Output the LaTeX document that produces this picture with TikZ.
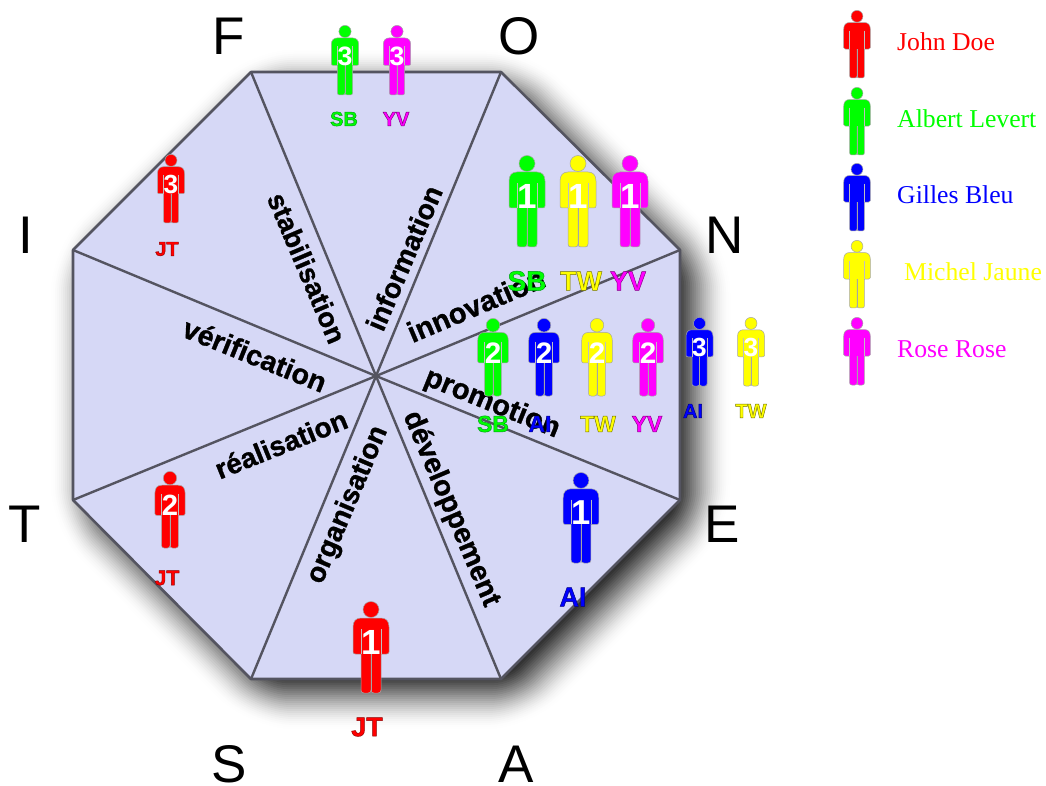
\documentclass[tikz,border=0pt]{standalone}
\usepackage{fontspec}
\setmainfont{Liberation Sans}
\newfontfamily\serifleg{Liberation Serif}
\definecolor{octfill}{RGB}{214,216,246}
\definecolor{rimgray}{RGB}{84,84,96}
\definecolor{pred}{RGB}{255,0,0}
\definecolor{pgreen}{RGB}{0,255,0}
\definecolor{pblue}{RGB}{0,0,255}
\definecolor{pyellow}{RGB}{255,255,0}
\definecolor{pmagenta}{RGB}{255,0,255}
\tikzset{
  rim/.style={draw=rimgray,line width=2.6pt,line join=round},
  spoke/.style={draw=rimgray,line width=2.4pt},
  corner/.style={font=\fontsize{53}{53}\selectfont,text=black,inner sep=0pt},
  sector/.style={font=\fontsize{#1}{#1}\selectfont\bfseries,text=black,inner sep=0pt},
  sector/.default=28,
  legend/.style={font=\serifleg\fontsize{25.7}{25.7}\selectfont,inner sep=0pt,anchor=west},
  figure/.style={line width=.5pt,draw=black!35},
  tag/.style={inner sep=0pt}
}
\def\edgepred{0.55 0 0}
\def\edgepgreen{0 0.6 0.1}
\def\edgepblue{0 0 0.5}
\def\edgepyellow{0.45 0.45 0}
\def\edgepmagenta{0.5 0 0.5}
\newcommand\heavy[1]{\special{pdf:code 2 Tr 0.3 w 0 0 0 RG}#1\special{pdf:code 0 Tr}}
% name, cx, top, bottom, colour, number
\newcommand\person[6]{%
  \pgfmathsetmacro\ph{#4-#3}\pgfmathsetmacro\ps{\ph/92}%
  \pgfmathsetmacro\pf{\ph*.38}%
  \begin{scope}[shift={(#2,#3)},scale=\ps]
    \fill[#5,figure] (0,8.5) circle [radius=8];
    \fill[#5,figure] (-10,17) .. controls (-15,17) and (-18,20) .. (-18,26)
      -- (-18,51) .. controls (-18,52.5) and (-17,53) .. (-15.5,53) -- (-10,53)
      -- (-10,89) .. controls (-10,91) and (-9,92) .. (-7,92) -- (-3,92)
      .. controls (-1,92) and (0,91) .. (0,89) -- (0,53) -- (0,89)
      .. controls (0,91) and (1,92) .. (3,92) -- (7,92)
      .. controls (9,92) and (10,91) .. (10,89) -- (10,53) -- (15.5,53)
      .. controls (17,53) and (18,52.5) .. (18,51) -- (18,26)
      .. controls (18,20) and (15,17) .. (10,17) -- cycle;
    \draw[black!35,line width=.4pt] (0,53) -- (0,90);
    \draw[black!25,line width=.3pt] (-10,28) -- (-10,53) (10,28) -- (10,53);
    \if\relax\detokenize{#6}\relax\else
      \node[inner sep=0pt,text=white,font=\fontsize{\pf}{\pf}\selectfont\bfseries] (#1n) at (0,41) {#6};
    \fi
  \end{scope}}
% name, x, y, size, colour, text
\newcommand\tagtext[6]{%
  \node[tag,text=#5,font=\fontsize{#4}{#4}\selectfont\bfseries] (#1) at (#2,#3)
    {\special{pdf:code 2 Tr 0.45 w \csname edge#5\endcsname\space RG}#6\special{pdf:code 0 Tr}};}
\begin{document}
\begin{tikzpicture}[x=1pt,y=-1pt]
\useasboundingbox (0,0) rectangle (1046,786);
\fill[white] (0,0) rectangle (1046,786);
% soft shadow, outermost layer first
\foreach \d in {38,36,...,-38}{
  \pgfmathsetmacro\t{(38-\d)/76}
  \pgfmathsetmacro\p{100*\t*\t*(3-2*\t)}
  \pgfmathsetmacro\k{(304+\d)/304}
  \pgfmathsetmacro\rc{max(1,(\d+38)*.6)}
  \fill[black!\p,rounded corners=\rc pt] [shift={(390,390)},scale=\k]
    (-125,-304) -- (125,-304) -- (304,-126) -- (304,124) -- (125,303)
    -- (-125,303) -- (-303,124) -- (-303,-126) -- cycle;
}
\coordinate (c) at (376,376);
\coordinate (v1) at (251,72);
\coordinate (v2) at (501,72);
\coordinate (v3) at (680,250);
\coordinate (v4) at (680,500);
\coordinate (v5) at (501,679);
\coordinate (v6) at (251,679);
\coordinate (v7) at (73,500);
\coordinate (v8) at (73,250);
\filldraw[fill=octfill,rim] (v1) -- (v2) -- (v3) -- (v4) -- (v5) -- (v6) -- (v7) -- (v8) -- cycle;
\foreach \v in {v1,v2,v3,v4,v5,v6,v7,v8} \draw[spoke] (c) -- (\v);
% corner letters
\node[corner] (lF) at (229,36) {F};
\node[corner] (lO) at (519,36) {O};
\node[corner] (lN) at (725,235) {N};
\node[corner] (lE) at (722,524) {E};
\node[corner] (lA) at (516,764) {A};
\node[corner] (lS) at (229,764) {S};
\node[corner] (lT) at (25,524) {T};
\node[corner] (lI) at (26,235) {I};
% sectors
\node[sector=28,rotate=67] (s1) at (404,258) {\heavy{information}};
\node[sector=27.5,rotate=-67] (s2) at (307,268) {\heavy{stabilisation}};
\node[sector=29,rotate=23] (s3) at (476,305) {\heavy{innovation}};
\node[sector=28.5,rotate=-22] (s4) at (255,355) {\heavy{vérification}};
\node[sector=29,rotate=-22] (s5) at (492,404) {\heavy{promotion}};
\node[sector=28,rotate=22] (s6) at (281,444) {\heavy{réalisation}};
\node[sector=28,rotate=67] (s7) at (348,505) {\heavy{organisation}};
\node[sector=28.5,rotate=-67] (s8) at (451,509) {\heavy{développement}};
% figures in the octagon
\person{a1}{345}{25}{95}{pgreen}{3}
\person{a2}{397}{25}{95}{pmagenta}{3}
\person{a3}{171}{154}{223}{pred}{3}
\person{a4}{527}{155}{247}{pgreen}{1}
\person{a5}{578}{155}{247}{pyellow}{1}
\person{a6}{630}{155}{247}{pmagenta}{1}
\person{a7}{493}{318}{396}{pgreen}{2}
\person{a8}{544}{318}{396}{pblue}{2}
\person{a9}{597}{318}{396}{pyellow}{2}
\person{a10}{648}{318}{396}{pmagenta}{2}
\person{a11}{699.5}{317}{386}{pblue}{3}
\person{a12}{751}{317}{386}{pyellow}{3}
\person{a13}{170}{471}{548}{pred}{2}
\person{a14}{581}{472}{563}{pblue}{1}
\person{a15}{371}{601}{693}{pred}{1}
% initials
\tagtext{t1}{344}{119}{20}{pgreen}{SB}
\tagtext{t2}{396}{119}{20}{pmagenta}{YV}
\tagtext{t3}{167}{249}{20}{pred}{JT}
\tagtext{t4}{527}{281}{28}{pgreen}{SB}
\tagtext{t5}{581}{281}{27}{pyellow}{TW}
\tagtext{t6}{628}{281}{27}{pmagenta}{YV}
\tagtext{t7}{493}{424}{23}{pgreen}{SB}
\tagtext{t8}{540}{424}{23}{pblue}{AI}
\tagtext{t9}{598}{424}{23}{pyellow}{TW}
\tagtext{t10}{647}{424}{23}{pmagenta}{YV}
\tagtext{t11}{693}{411}{20}{pblue}{AI}
\tagtext{t12}{751}{411}{20}{pyellow}{TW}
\tagtext{t13}{167}{578}{21}{pred}{JT}
\tagtext{t14}{573}{597}{27}{pblue}{AI}
\tagtext{t15}{367}{727}{27}{pred}{JT}
% legend
\person{b1}{857}{10}{78}{pred}{}
\person{b2}{857}{87}{155}{pgreen}{}
\person{b3}{857}{163}{231}{pblue}{}
\person{b4}{857}{240}{308}{pyellow}{}
\person{b5}{857}{317}{385}{pmagenta}{}
\node[legend,text=pred] (n1) at (897,42) {John Doe};
\node[legend,text=pgreen] (n2) at (897,119) {Albert Levert};
\node[legend,text=pblue] (n3) at (897,195) {Gilles Bleu};
\node[legend,text=pyellow] (n4) at (904,272) {Michel Jaune};
\node[legend,text=pmagenta] (n5) at (897,349) {Rose Rose};
\end{tikzpicture}
\end{document}
